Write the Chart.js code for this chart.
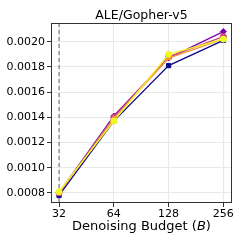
<!DOCTYPE html>
<html lang="en">
<head>
    <meta charset="UTF-8">
    <title>ALE/Gopher-v5</title>
    <script src="https://cdn.jsdelivr.net/npm/chart.js"></script>
    <style>
        * { margin: 0; padding: 0; box-sizing: border-box; }
        body { background: #fff; width: 244px; height: 244px; overflow: hidden; }
        #wrap { position: relative; width: 244px; height: 244px; }
    </style>
</head>
<body>
    <div id="wrap"><canvas id="chart" width="244" height="244"></canvas></div>

    <script>
        const budgets = [32, 64, 128, 256];
        const yTicks = [0.0008, 0.0010, 0.0012, 0.0014, 0.0016, 0.0018, 0.0020];
        const seriesA = [0.00078, 0.00137, 0.00181, 0.00201];
        const seriesB = [0.00080, 0.00141, 0.00187, 0.00208];
        const seriesC = [0.00080, 0.00140, 0.00188, 0.00204];
        const seriesD = [0.00080, 0.00139, 0.00187, 0.00202];
        const seriesE = [0.00081, 0.00137, 0.00190, 0.00202];

        const colors = ['#0d0887', '#7e03a8', '#cc4778', '#f89540', '#f0f921'];
        const shapes = ['rect', 'rectRot', 'circle', 'triangle', 'circle'];
        const allSeries = [seriesA, seriesB, seriesC, seriesD, seriesE];

        const FONT = '"DejaVu Sans", sans-serif';

        const extras = {
            id: 'extras',
            beforeDatasetsDraw(chart) {
                const ctx = chart.ctx, a = chart.chartArea;
                const x = chart.scales.x.getPixelForValue(32);
                ctx.save();
                ctx.strokeStyle = '#777';
                ctx.lineWidth = 1.2;
                ctx.setLineDash([4, 3]);
                ctx.beginPath();
                ctx.moveTo(x, a.top);
                ctx.lineTo(x, a.bottom);
                ctx.stroke();
                ctx.restore();
            },
            afterDraw(chart) {
                const ctx = chart.ctx, a = chart.chartArea;
                ctx.save();
                ctx.strokeStyle = '#333';
                ctx.lineWidth = 1;
                ctx.strokeRect(a.left + 0.5, a.top + 0.5, a.right - a.left - 1, a.bottom - a.top - 1);
                const cx = (a.left + a.right) / 2;
                ctx.fillStyle = '#000';
                ctx.textBaseline = 'alphabetic';
                ctx.font = '12.5px ' + FONT;
                ctx.textAlign = 'center';
                ctx.fillText('ALE/Gopher-v5', cx, 19);
                // x axis label with italic B
                const p1 = 'Denoising Budget (', p2 = 'B', p3 = ')';
                const f1 = '13px ' + FONT, f2 = 'italic 13px ' + FONT;
                ctx.font = f1; const w1 = ctx.measureText(p1).width, w3 = ctx.measureText(p3).width;
                ctx.font = f2; const w2 = ctx.measureText(p2).width;
                let sx = cx - (w1 + w2 + w3) / 2;
                ctx.textAlign = 'left';
                const by = 230;
                ctx.font = f1; ctx.fillText(p1, sx, by); sx += w1;
                ctx.font = f2; ctx.fillText(p2, sx, by); sx += w2;
                ctx.font = f1; ctx.fillText(p3, sx, by);
                ctx.restore();
            }
        };

        const datasets = allSeries.map((s, i) => ({
            label: 'series ' + i,
            data: budgets.map((b, j) => ({ x: b, y: s[j] })),
            borderColor: colors[i],
            backgroundColor: colors[i],
            borderWidth: 1.3,
            pointStyle: shapes[i],
            pointRadius: 3,
            pointBorderWidth: 1,
            order: allSeries.length - i
        }));

        new Chart(document.getElementById('chart'), {
            type: 'line',
            data: { datasets },
            options: {
                responsive: false,
                animation: false,
                devicePixelRatio: 1,
                layout: { padding: { left: 4, right: 12, top: 23, bottom: 0 } },
                plugins: { legend: { display: false }, tooltip: { enabled: false }, title: { display: false } },
                scales: {
                    x: {
                        type: 'logarithmic',
                        min: 28.9,
                        max: 285.7,
                        afterBuildTicks: s => { s.ticks = budgets.map(v => ({ value: v })); },
                        afterFit: s => { s.height = 41; },
                        ticks: {
                            color: '#000',
                            font: { family: FONT, size: 11 },
                            padding: 1,
                            maxRotation: 0,
                            autoSkip: false,
                            callback: v => String(v)
                        },
                        grid: { color: '#e8e8e8', tickColor: '#333', tickLength: 4, dash: [2, 2], tickBorderDash: [] },
                        border: { display: false }
                    },
                    y: {
                        type: 'linear',
                        min: 0.00072,
                        max: 0.002148,
                        afterBuildTicks: s => { s.ticks = yTicks.map(v => ({ value: v })); },
                        afterFit: s => { s.width = 47; },
                        ticks: {
                            color: '#000',
                            font: { family: FONT, size: 11 },
                            padding: 2,
                            callback: v => v.toFixed(4)
                        },
                        grid: { color: '#e8e8e8', tickColor: '#333', tickLength: 4, dash: [2, 2], tickBorderDash: [] },
                        border: { display: false }
                    }
                }
            },
            plugins: [extras]
        });
    </script>
</body>
</html>
